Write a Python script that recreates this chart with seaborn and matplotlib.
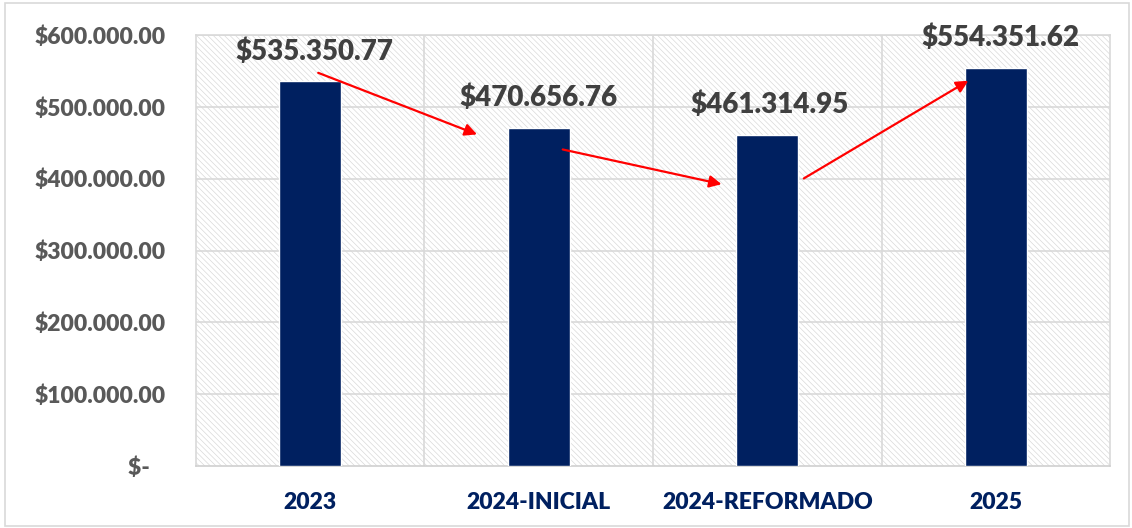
import matplotlib
matplotlib.use("Agg")
import matplotlib.pyplot as plt
import seaborn as sns
import pandas as pd
from matplotlib.patches import Rectangle

# Data
categories = ["2023", "2024-INICIAL", "2024-REFORMADO", "2025"]
values = [535350.77, 470656.76, 461314.95, 554351.62]
value_labels = ["$535.350.77", "$470.656.76", "$461.314.95", "$554.351.62"]
y_ticks = [0, 100000, 200000, 300000, 400000, 500000, 600000]
y_tick_labels = ["$-   ", "$100.000.00", "$200.000.00", "$300.000.00",
                 "$400.000.00", "$500.000.00", "$600.000.00"]

sns.set_style("white")
plt.rcParams['font.family'] = ['Lato', 'DejaVu Sans']
plt.rcParams['hatch.linewidth'] = 0.5
plt.rcParams['hatch.color'] = '#d9d9d9'

df = pd.DataFrame({"cat": categories, "val": values})

fig = plt.figure(figsize=(11.32, 5.28), dpi=100)
ax = fig.add_axes([0.1731, 0.1174, 0.8075, 0.8163])

# hatched plot area background
ax.add_patch(Rectangle((0, 0), 1, 1, transform=ax.transAxes, facecolor='white',
                       edgecolor='#d9d9d9', hatch='\\\\\\\\\\\\', linewidth=0, zorder=0))

sns.barplot(data=df, x="cat", y="val", color="#002060", width=0.27,
            saturation=1, ax=ax, zorder=3)

ax.set_xlim(-0.5, 3.5)
ax.set_ylim(0, 600000)
ax.set_yticks(y_ticks)
ax.set_yticklabels(y_tick_labels)
ax.set_xlabel("")
ax.set_ylabel("")

# gridlines: horizontal at ticks, vertical at category boundaries
for y in y_ticks[1:]:
    ax.axhline(y, color='#d9d9d9', lw=1.2, zorder=1)
for xb in [0.5, 1.5, 2.5]:
    ax.axvline(xb, color='#d9d9d9', lw=1.2, zorder=1)

for s in ax.spines.values():
    s.set_color('#d9d9d9')
    s.set_linewidth(1.2)
ax.spines['bottom'].set_color('#d0d0d0')

ax.tick_params(axis='y', length=0, pad=22, labelsize=16.5, labelcolor='#595959')
ax.tick_params(axis='x', length=0, pad=19, labelsize=16.5, labelcolor='#002060')
for t in ax.get_yticklabels() + ax.get_xticklabels():
    t.set_fontweight('heavy')

# value labels
label_offsets = [(0.02, 42000), (0.0, 42000), (0.01, 42000), (0.02, 42000)]
for i, (v, lab) in enumerate(zip(values, value_labels)):
    dx, dy = label_offsets[i]
    ax.text(i + dx, v + dy, lab, ha='center', va='center', fontsize=20,
            fontweight='heavy', color='#404040', zorder=5, clip_on=False)

# red trend arrows between bars
arrow_pts = [((0.035, values[0] + 12000), (0.73, values[1] - 9000)),
             ((1.105, values[1] - 30000), (1.80, values[2] - 69000)),
             ((2.16, values[2] - 61000), (2.88, values[3] - 18000))]
for start, end in arrow_pts:
    ax.annotate("", xy=end, xytext=start,
                arrowprops=dict(arrowstyle='-|>', color='red', lw=1.6,
                                mutation_scale=18, shrinkA=0, shrinkB=0),
                zorder=6)

# light outer frame
fig.patches.append(Rectangle((0.004, 0.004), 0.993, 0.99, transform=fig.transFigure,
                             fill=False, edgecolor='#d9d9d9', lw=1.2))

fig.savefig("out.png", dpi=100)
